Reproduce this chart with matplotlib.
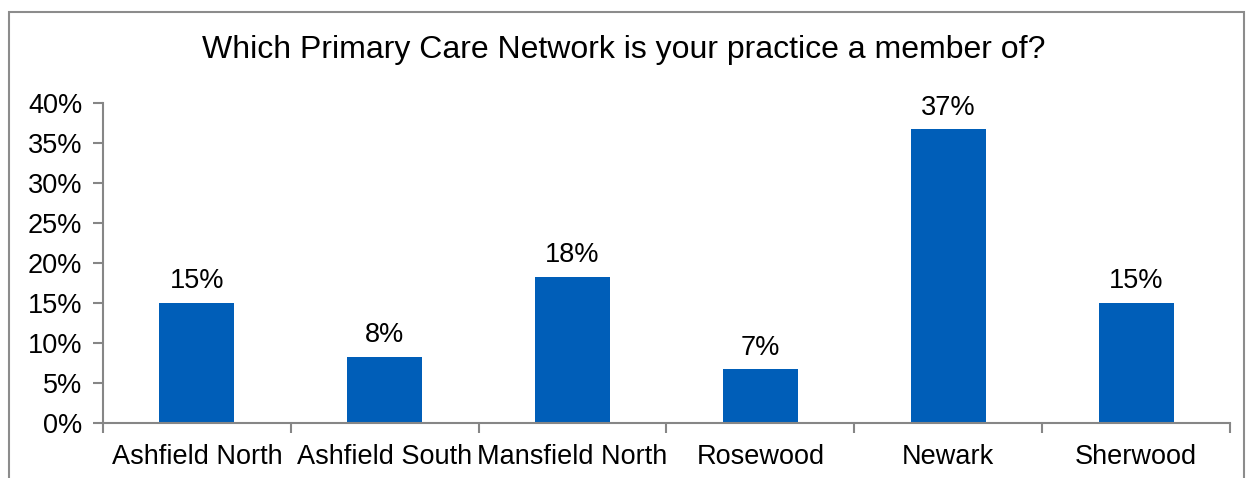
import numpy as np
import matplotlib.pyplot as plt
from matplotlib.patches import Rectangle

plt.rcParams['font.family'] = ['Liberation Sans', 'DejaVu Sans']

networks = ['Ashfield North', 'Ashfield South', 'Mansfield North', 'Rosewood', 'Newark', 'Sherwood']
share = [0.15, 0.083, 0.183, 0.067, 0.367, 0.15]
labels = ['15%', '8%', '18%', '7%', '37%', '15%']

fig = plt.figure(figsize=(12.48, 4.78), dpi=100)
ax = fig.add_axes([103/1248, 1 - 423/478, (1230-103)/1248, (423-103)/478])

# grey frame round the whole chart
fig.patches.append(Rectangle((9/1248, -0.1), (1244-9)/1248, 1.1 - 12/478,
                             transform=fig.transFigure, fill=False,
                             edgecolor='#8c8c8c', linewidth=1.5))

x = np.arange(len(networks))
ax.bar(x, share, width=0.4, color='#005EB8')
for xi, v, t in zip(x, share, labels):
    ax.text(xi, v + 0.011, t, ha='center', va='bottom', fontsize=19.5)

ax.set_xlim(-0.5, len(networks) - 0.5)
ax.set_ylim(0, 0.40)
ax.set_yticks(np.arange(0, 0.41, 0.05))
ax.set_yticklabels(['{:.0f}%'.format(v*100) for v in np.arange(0, 0.41, 0.05)])
ax.set_xticks(x)
ax.set_xticklabels(networks)
ax.set_xticks(np.arange(-0.5, len(networks)), minor=True)

for s in ['top', 'right']:
    ax.spines[s].set_visible(False)
for s in ['left', 'bottom']:
    ax.spines[s].set_color('#868686')
    ax.spines[s].set_linewidth(1.5)
ax.tick_params(axis='y', labelsize=19.5, length=7, width=1.5, color='#868686', pad=8)
ax.tick_params(axis='x', which='major', labelsize=19.5, length=0, pad=15)
ax.tick_params(axis='x', which='minor', length=7, width=1.5, color='#868686')

fig.text(0.5, 1 - 50/478, 'Which Primary Care Network is your practice a member of?',
         ha='center', va='center', fontsize=23)

fig.savefig('out.png', dpi=100)
